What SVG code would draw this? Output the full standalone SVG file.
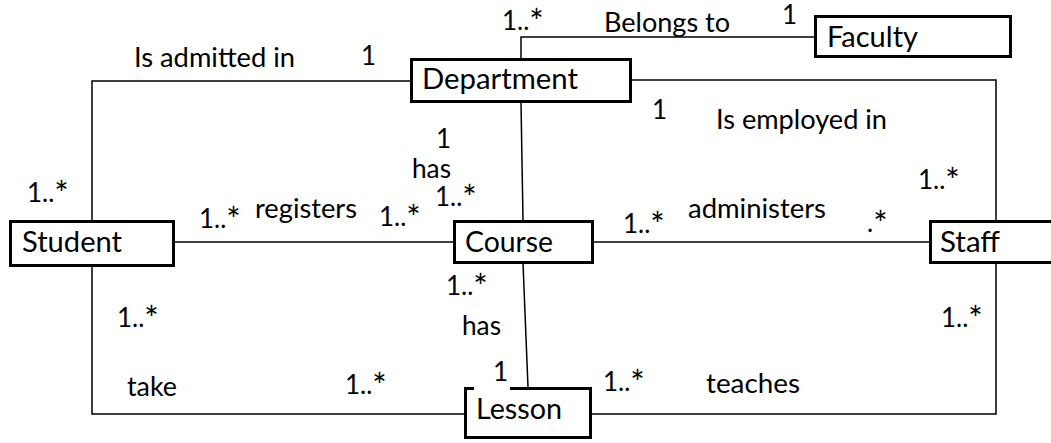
<svg xmlns="http://www.w3.org/2000/svg" width="1051" height="443" viewBox="0 0 1051 443">
  <style>
    .box { fill: #ffffff; stroke: #000000; stroke-width: 3; }
    .name { font-family: Lato, "Liberation Sans", sans-serif; font-size: 28px; fill: #000000; }
    .lbl { font-family: Lato, "Liberation Sans", sans-serif; font-size: 26px; fill: #000000; }
    .st { font-size: 34px; }
    .link { fill: none; stroke: #000000; stroke-width: 1.5; }
  </style>
  <rect x="0" y="0" width="1051" height="443" fill="#ffffff"/>

  <!-- associations -->
  <g id="connectors">
    <path class="link" d="M521,58 V37 H814"/>
    <path class="link" d="M410,81 H92 V220"/>
    <path class="link" d="M632,80 H996 V220"/>
    <path class="link" d="M175,242 H453"/>
    <path class="link" d="M594,242 H929"/>
    <path class="link" d="M521,103 L523,220"/>
    <path class="link" d="M523,263 L528,387"/>
    <path class="link" d="M92,267 V414 H464"/>
    <path class="link" d="M592,414 H996 V263"/>
  </g>

  <!-- classes -->
  <g id="faculty">
    <rect class="box" x="815.5" y="16.5" width="195" height="40"/>
    <text class="name" x="827" y="47" textLength="91" lengthAdjust="spacingAndGlyphs">Faculty</text>
  </g>
  <g id="department">
    <rect class="box" x="411.5" y="59.5" width="219" height="42"/>
    <text class="name" x="422" y="89" textLength="156" lengthAdjust="spacingAndGlyphs">Department</text>
  </g>
  <g id="student">
    <rect class="box" x="10.5" y="221.5" width="163" height="44"/>
    <text class="name" x="22" y="252" textLength="100" lengthAdjust="spacingAndGlyphs">Student</text>
  </g>
  <g id="course">
    <rect class="box" x="454.5" y="221.5" width="138" height="41"/>
    <text class="name" x="465" y="252" textLength="88" lengthAdjust="spacingAndGlyphs">Course</text>
  </g>
  <g id="staff">
    <rect class="box" x="930.5" y="221.5" width="140" height="41"/>
    <text class="name" x="940" y="252" textLength="60" lengthAdjust="spacingAndGlyphs">Staff</text>
  </g>
  <g id="lesson">
    <rect class="box" x="465.5" y="388.5" width="125" height="49"/>
    <rect x="474" y="364" width="36" height="28" fill="#ffffff"/>
    <text class="name" x="476" y="419" textLength="86" lengthAdjust="spacingAndGlyphs">Lesson</text>
  </g>

  <!-- association names and multiplicities -->
  <g id="labels">
    <text class="lbl" x="502" y="30">1..<tspan class="st" dy="4">*</tspan></text>
    <text class="lbl" x="604" y="32" textLength="126" lengthAdjust="spacingAndGlyphs">Belongs to</text>
    <text class="lbl" x="782" y="24">1</text>

    <text class="lbl" x="134" y="67" textLength="161" lengthAdjust="spacingAndGlyphs">Is admitted in</text>
    <text class="lbl" x="361" y="65">1</text>

    <text class="lbl" x="652" y="119">1</text>
    <text class="lbl" x="716" y="129" textLength="171" lengthAdjust="spacingAndGlyphs">Is employed in</text>
    <text class="lbl" x="918" y="189">1..<tspan class="st" dy="4">*</tspan></text>

    <text class="lbl" x="436" y="148">1</text>
    <text class="lbl" x="412" y="178" textLength="39" lengthAdjust="spacingAndGlyphs">has</text>
    <text class="lbl" x="435" y="206">1..<tspan class="st" dy="4">*</tspan></text>

    <text class="lbl" x="27" y="202">1..<tspan class="st" dy="4">*</tspan></text>
    <text class="lbl" x="199" y="228">1..<tspan class="st" dy="4">*</tspan></text>
    <text class="lbl" x="255" y="218" textLength="102" lengthAdjust="spacingAndGlyphs">registers</text>
    <text class="lbl" x="379" y="226">1..<tspan class="st" dy="4">*</tspan></text>

    <text class="lbl" x="623" y="233">1..<tspan class="st" dy="4">*</tspan></text>
    <text class="lbl" x="688" y="218" textLength="138" lengthAdjust="spacingAndGlyphs">administers</text>
    <text class="lbl" x="867" y="232">.<tspan class="st" dy="4">*</tspan></text>

    <text class="lbl" x="446" y="295">1..<tspan class="st" dy="4">*</tspan></text>
    <text class="lbl" x="462" y="335" textLength="39" lengthAdjust="spacingAndGlyphs">has</text>
    <text class="lbl" x="493" y="381">1</text>

    <text class="lbl" x="117" y="327">1..<tspan class="st" dy="4">*</tspan></text>
    <text class="lbl" x="127" y="396" textLength="50" lengthAdjust="spacingAndGlyphs">take</text>
    <text class="lbl" x="345" y="394">1..<tspan class="st" dy="4">*</tspan></text>

    <text class="lbl" x="603" y="391">1..<tspan class="st" dy="4">*</tspan></text>
    <text class="lbl" x="706" y="393" textLength="94" lengthAdjust="spacingAndGlyphs">teaches</text>
    <text class="lbl" x="941" y="327">1..<tspan class="st" dy="4">*</tspan></text>
  </g>
</svg>
